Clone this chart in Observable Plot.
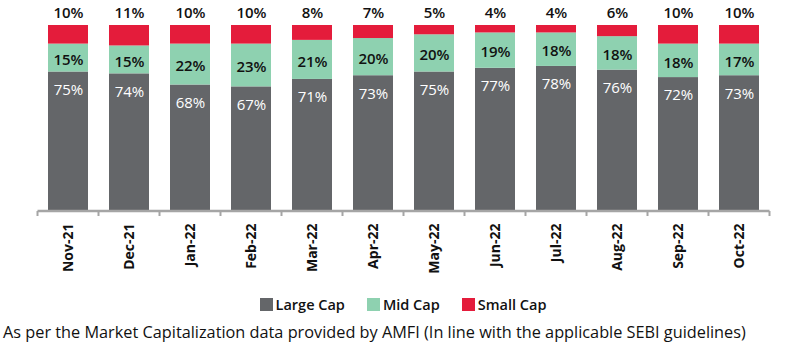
<!DOCTYPE html>
<html><head><meta charset="utf-8">
<script src="https://cdn.jsdelivr.net/npm/d3@7"></script>
<script src="https://cdn.jsdelivr.net/npm/@observablehq/plot@0.6"></script>
<style>
body{margin:0;background:#fff;font-family:"Open Sans",sans-serif;}
#wrap{width:788px;}
.legend{height:28px;display:flex;justify-content:center;align-items:center;gap:22px;font-size:14.5px;font-weight:600;color:#111;padding-left:18px;box-sizing:border-box}
.legend span.sw{display:inline-block;width:13px;height:13px;margin-right:3px;vertical-align:-1px}
.caption{height:28px;line-height:28px;font-size:16.3px;color:#111;padding-left:3px;white-space:nowrap}
</style></head>
<body><div id="wrap"></div>
<script>
const months = ["Nov-21","Dec-21","Jan-22","Feb-22","Mar-22","Apr-22","May-22","Jun-22","Jul-22","Aug-22","Sep-22","Oct-22"];
const largeCap = [75,74,68,67,71,73,75,77,78,76,72,73];
const midCap   = [15,15,22,23,21,20,20,19,18,18,18,17];
const smallCap = [10,11,10,10,8,7,5,4,4,6,10,10];
const seriesNames = ["Large Cap","Mid Cap","Small Cap"];
const colors = ["#646669","#8ed1b0","#e41c3b"];
const caption = "As per the Market Capitalization data provided by AMFI (In line with the applicable SEBI guidelines)";

const rows = [];
months.forEach((m,i)=>{
  rows.push({month:m, series:"Large Cap", value:largeCap[i], lo:0, hi:largeCap[i]});
  rows.push({month:m, series:"Mid Cap", value:midCap[i], lo:largeCap[i], hi:largeCap[i]+midCap[i]});
  rows.push({month:m, series:"Small Cap", value:smallCap[i], lo:largeCap[i]+midCap[i], hi:largeCap[i]+midCap[i]+smallCap[i]});
});
const large = rows.filter(d=>d.series==="Large Cap");
const mid = rows.filter(d=>d.series==="Mid Cap");
const small = rows.filter(d=>d.series==="Small Cap");

function boundaryTicks(index, scales, values, dims){
  const x = scales.x;
  const step = x.step();
  const g = d3.create("svg:g");
  const y0 = dims.height - dims.marginBottom;
  const xs = months.map(m => x(m) + x.bandwidth()/2 - step/2);
  xs.push(x(months[months.length-1]) + x.bandwidth()/2 + step/2);
  g.append("line").attr("x1", xs[0]).attr("x2", xs[xs.length-1]).attr("y1", y0).attr("y2", y0)
    .attr("stroke","#a5a5a5").attr("stroke-width",2.5);
  xs.forEach(v=>g.append("line").attr("x1",v).attr("x2",v).attr("y1",y0).attr("y2",y0+5)
    .attr("stroke","#a5a5a5").attr("stroke-width",2));
  return g.node();
}

const chart = Plot.plot({
  width: 788, height: 290,
  marginTop: 25, marginBottom: 79, marginLeft: 34, marginRight: 15,
  style: {fontFamily: '"Open Sans", sans-serif', background: "#fff"},
  x: {domain: months, paddingInner: 0.35, paddingOuter: 0.175, label: null},
  y: {domain: [0,100], axis: null},
  color: {domain: seriesNames, range: colors},
  marks: [
    Plot.rectY(rows, {x: "month", y1: "lo", y2: "hi", fill: "series"}),
    Plot.axisX({tickSize: 0, tickRotate: -90, tickPadding: 12, fontSize: 14, fontWeight: 700, fill: "#111", label: null}),
    boundaryTicks,
    Plot.text(large, {x: "month", y: "hi", text: d=>d.value+"%", dy: 18, fill: "#fff", fontSize: 15}),
    Plot.text(mid, {x: "month", y: d=>(d.lo+d.hi)/2, text: d=>d.value+"%", dy: 2, fill: "#111", fontSize: 15, fontWeight: 600}),
    Plot.text(small, {x: "month", y: "hi", text: d=>d.value+"%", dy: -12, fill: "#111", fontSize: 15, fontWeight: 600})
  ]
});
const wrap = document.getElementById("wrap");
wrap.appendChild(chart);
const leg = document.createElement("div");
leg.className = "legend";
seriesNames.forEach((s,i)=>{
  const it = document.createElement("div");
  it.innerHTML = `<span class="sw" style="background:${colors[i]}"></span>${s}`;
  leg.appendChild(it);
});
wrap.appendChild(leg);
const cap = document.createElement("div");
cap.className = "caption";
cap.textContent = caption;
wrap.appendChild(cap);
</script></body></html>
